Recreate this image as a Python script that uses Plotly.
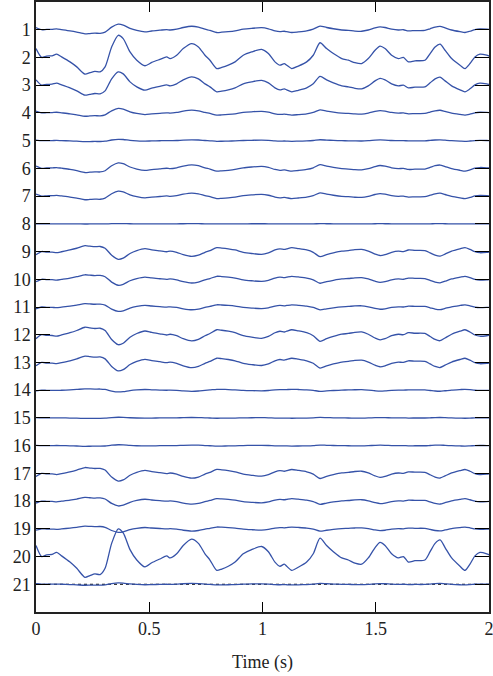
import plotly.graph_objects as go

# Reference waveform (channel 2): time (s) and amplitude (in channel spacings)
base_t = [0.000, 0.025, 0.047, 0.071, 0.091, 0.113, 0.150, 0.180, 0.216, 0.238, 0.260, 0.283,
          0.305, 0.334, 0.363, 0.385, 0.415, 0.445, 0.481, 0.511, 0.547, 0.577, 0.592, 0.621,
          0.650, 0.687, 0.717, 0.746, 0.768, 0.798, 0.820, 0.849, 0.879, 0.915, 0.952, 0.996,
          1.026, 1.055, 1.077, 1.096, 1.107, 1.129, 1.158, 1.195, 1.224, 1.254, 1.283, 1.313,
          1.350, 1.379, 1.408, 1.438, 1.467, 1.497, 1.519, 1.541, 1.570, 1.600, 1.622, 1.644,
          1.673, 1.717, 1.740, 1.762, 1.784, 1.806, 1.835, 1.872, 1.894, 1.916, 1.938, 1.960,
          1.990, 2.000]
base_amp = [0.32, 0.00, 0.05, 0.06, 0.12, 0.02, -0.16, -0.34, -0.60, -0.55, -0.50, -0.52,
            -0.34, 0.38, 0.80, 0.68, 0.20, -0.10, -0.30, -0.18, -0.07, 0.02, -0.04, 0.08,
            0.32, 0.50, 0.38, 0.08, -0.10, -0.40, -0.36, -0.28, -0.16, 0.08, 0.20, 0.29,
            0.14, -0.16, -0.28, -0.22, -0.28, -0.40, -0.31, -0.16, 0.08, 0.53, 0.32, 0.14,
            -0.04, -0.10, -0.19, -0.22, -0.04, 0.26, 0.41, 0.32, 0.08, -0.04, 0.00, -0.16,
            -0.12, -0.10, 0.14, 0.38, 0.48, 0.26, -0.04, -0.28, -0.40, -0.22, 0.02, 0.12,
            0.08, 0.05]

# Per-channel weight of the reference waveform
channels = list(range(1, 22))
gains = [0.25, 1.0, 0.6, 0.2, 0.06, 0.25, 0.22, 0.01, -0.35, -0.27, -0.2, -0.45, -0.38,
         -0.08, 0.03, 0.04, -0.35, -0.22, -0.16, 1.25, 0.06]

x_ticks = [0, 0.5, 1, 1.5, 2]
x_tick_text = ["0", "0.5", "1", "1.5", "2"]

n = len(channels)
offsets = [n + 1 - c for c in channels]

BLUE = "#3552a8"
FONT = "Liberation Serif"

fig = go.Figure()

# dotted black baseline under channel 21
fig.add_trace(go.Scatter(x=[base_t[0], base_t[-1]], y=[offsets[-1], offsets[-1]], mode="lines",
                         line=dict(color="black", width=1, dash="dot"), hoverinfo="skip",
                         showlegend=False))

for c, off, g in zip(channels, offsets, gains):
    fig.add_trace(go.Scatter(
        x=base_t, y=[off + g * a for a in base_amp], mode="lines",
        line=dict(color=BLUE, width=1.3, shape="spline", smoothing=0.7),
        showlegend=False, name=str(c)))

fig.update_layout(
    width=493, height=676,
    margin=dict(l=36, r=4, t=2, b=64, autoexpand=False),
    paper_bgcolor="white", plot_bgcolor="white",
    font=dict(family=FONT, size=18, color="#222"),
)
fig.update_xaxes(
    range=[0, 2], tickvals=x_ticks, ticktext=x_tick_text,
    ticks="inside", ticklen=10, tickcolor="black", tickwidth=1.2,
    showline=True, linecolor="#222", linewidth=1.5, mirror="ticks",
    showgrid=False, zeroline=False, automargin=False,
    ticklabeloverflow="allow",
    title=dict(text="Time (s)", font=dict(family=FONT, size=18), standoff=17),
    tickfont=dict(family=FONT, size=18),
)
fig.update_yaxes(
    range=[0, n + 1], tickvals=offsets, ticktext=[str(c) for c in channels],
    ticks="inside", ticklen=14, tickcolor="black", tickwidth=1.2,
    showline=True, linecolor="#222", linewidth=1.5, mirror="ticks",
    showgrid=False, zeroline=False, automargin=False,
    tickfont=dict(family=FONT, size=18),
)

fig.write_html("out.html", config={"displayModeBar": False},
               post_script="document.body.style.margin='0';")
